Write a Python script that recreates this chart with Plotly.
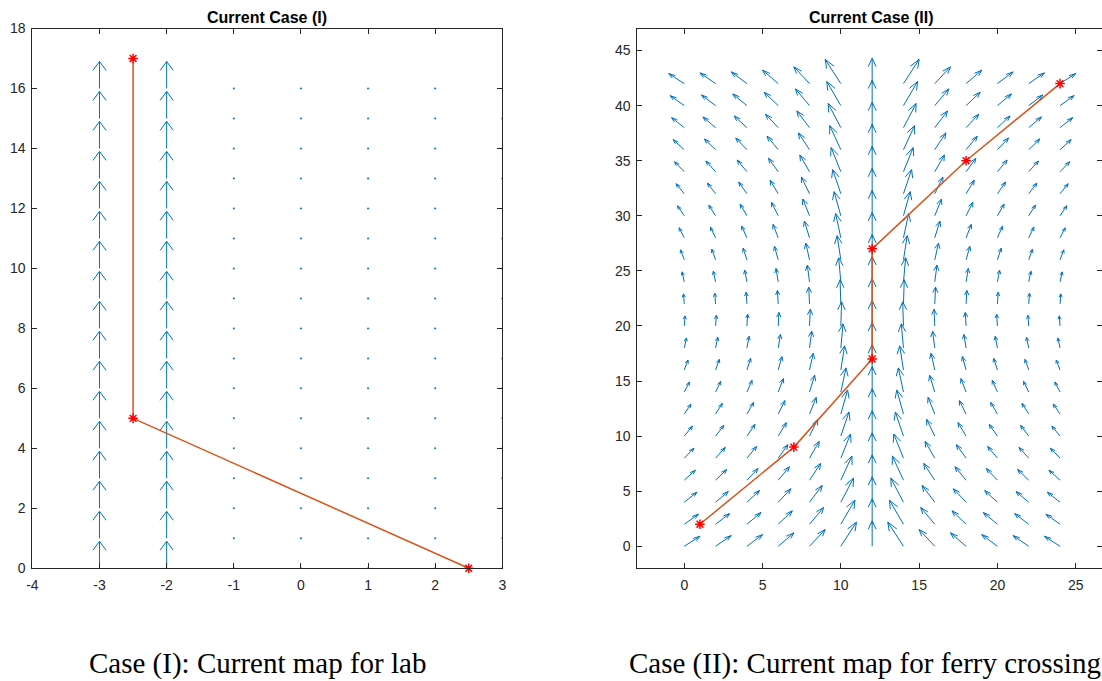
import plotly.graph_objects as go

# ---------------- Case (I): lab current ----------------
lab_x = [-3, -2, -1, 0, 1, 2, 3]
lab_y = [0, 1, 2, 3, 4, 5, 6, 7, 8, 9, 10, 11, 12, 13, 14, 15, 16]
lab_u = [0, 0, 0, 0, 0, 0, 0]            # cross-stream component per column
lab_v = [0.9, 0.9, 0, 0, 0, 0, 0]        # along-stream component per column
lab_path_x = [-2.5, -2.5, 2.5]
lab_path_y = [17, 5, 0]
lab_xticks = [-4, -3, -2, -1, 0, 1, 2, 3]
lab_yticks = [0, 2, 4, 6, 8, 10, 12, 14, 16, 18]

# ---------------- Case (II): ferry crossing ----------------
ferry_x = [0, 2, 4, 6, 8, 10, 12, 14, 16, 18, 20, 22, 24]
ferry_y = [0, 2, 4, 6, 8, 10, 12, 14, 16, 18, 20, 22, 24, 26, 28, 30,
           32, 34, 36, 38, 40, 42]
# cross-stream drift on each row (left bank), mirrored on the right bank
ferry_drift = [1.0, 0.9, 0.81, 0.71, 0.62, 0.52, 0.43, 0.33, 0.24, 0.14, 0.05,
               -0.05, -0.14, -0.24, -0.33, -0.43, -0.52, -0.62, -0.71, -0.81,
               -0.9, -1.0]
ferry_bank = [1, 1, 1, 1, 1, 1, 0, -1, -1, -1, -1, -1, -1]
# along-stream flow on each column
ferry_flow = [0.91, 0.97, 1.06, 1.22, 1.52, 2.19, 2.3, 2.19, 1.52, 1.22, 1.06,
              0.97, 0.91]
ferry_path_x = [1, 7, 12, 12, 18, 24]
ferry_path_y = [2, 9, 17, 27, 35, 42]
ferry_xticks = [0, 5, 10, 15, 20, 25]
ferry_yticks = [0, 5, 10, 15, 20, 25, 30, 35, 40, 45]

W, H = 1102, 681
BLUE = "#0072BD"
ORANGE = "#D95319"
RED = "#FF0000"
AXC = "#262626"


def quiver(xs, ys, us, vs, alpha=0.33, beta=0.33):
    """Shaft + open arrowhead polylines; zero vectors returned as dots."""
    lx, ly, dx, dy = [], [], [], []
    for x, y, u, v in zip(xs, ys, us, vs):
        if u == 0 and v == 0:
            dx.append(x)
            dy.append(y)
            continue
        lx += [x, x + u, None]
        ly += [y, y + v, None]
        lx += [x + u - alpha * (u + beta * v), x + u,
               x + u - alpha * (u - beta * v), None]
        ly += [y + v - alpha * (v - beta * u), y + v,
               y + v - alpha * (v + beta * u), None]
    return lx, ly, dx, dy


# expand the lab grid
lx_pts, ly_pts, lu_pts, lv_pts = [], [], [], []
for y in lab_y:
    for j, x in enumerate(lab_x):
        lx_pts.append(x)
        ly_pts.append(y)
        lu_pts.append(lab_u[j])
        lv_pts.append(lab_v[j])

# expand the ferry grid
fx_pts, fy_pts, fu_pts, fv_pts = [], [], [], []
for i, y in enumerate(ferry_y):
    for j, x in enumerate(ferry_x):
        fx_pts.append(x)
        fy_pts.append(y)
        fu_pts.append(ferry_drift[i] * ferry_bank[j])
        fv_pts.append(ferry_flow[j])

fig = go.Figure()

star = dict(symbol="asterisk-open", size=8, color=RED,
            line=dict(color=RED, width=1.5))

qx, qy, dxs, dys = quiver(lx_pts, ly_pts, lu_pts, lv_pts)
fig.add_trace(go.Scatter(x=qx, y=qy, mode="lines",
                         line=dict(color=BLUE, width=1),
                         xaxis="x", yaxis="y", hoverinfo="skip"))
fig.add_trace(go.Scatter(x=dxs, y=dys, mode="markers",
                         marker=dict(color=BLUE, size=2, line=dict(width=0)),
                         xaxis="x", yaxis="y", hoverinfo="skip"))
fig.add_trace(go.Scatter(x=lab_path_x, y=lab_path_y, mode="lines",
                         line=dict(color=ORANGE, width=1.5),
                         xaxis="x", yaxis="y"))
fig.add_trace(go.Scatter(x=lab_path_x, y=lab_path_y, mode="markers",
                         marker=star, xaxis="x", yaxis="y", cliponaxis=False))

qx, qy, dxs, dys = quiver(fx_pts, fy_pts, fu_pts, fv_pts)
fig.add_trace(go.Scatter(x=qx, y=qy, mode="lines",
                         line=dict(color=BLUE, width=1),
                         xaxis="x2", yaxis="y2", hoverinfo="skip"))
fig.add_trace(go.Scatter(x=ferry_path_x, y=ferry_path_y, mode="lines",
                         line=dict(color=ORANGE, width=1.5),
                         xaxis="x2", yaxis="y2"))
fig.add_trace(go.Scatter(x=ferry_path_x, y=ferry_path_y, mode="markers",
                         marker=star, xaxis="x2", yaxis="y2"))

# plot-area boxes in pixels
L1, R1 = 32.4, 502.3
L2, R2 = 637.3, 1102.0
TOP, BOT = 28.5, 568.3

axis_common = dict(
    showgrid=False, zeroline=False, showline=True, mirror="ticks",
    linecolor=AXC, linewidth=1, ticks="inside", ticklen=5, tickwidth=1,
    tickcolor=AXC, automargin=False,
    tickfont=dict(family="Liberation Sans, Arial", size=14, color=AXC),
)


def labels(vals):
    return [str(v) for v in vals]


fig.update_layout(
    width=W, height=H,
    margin=dict(l=0, r=0, t=0, b=0, autoexpand=False),
    paper_bgcolor="white", plot_bgcolor="white",
    showlegend=False,
    xaxis=dict(axis_common, domain=[L1 / W, R1 / W], range=[-4, 3],
               tickvals=lab_xticks, ticktext=labels(lab_xticks),
               ticklabelstandoff=4, anchor="y"),
    yaxis=dict(axis_common, domain=[1 - BOT / H, 1 - TOP / H], range=[0, 18],
               tickvals=lab_yticks, ticktext=labels(lab_yticks),
               ticklabelstandoff=3, anchor="x"),
    xaxis2=dict(axis_common, domain=[L2 / W, R2 / W], range=[-3, 26.68],
                tickvals=ferry_xticks, ticktext=labels(ferry_xticks),
                ticklabelstandoff=4, anchor="y2"),
    yaxis2=dict(axis_common, domain=[1 - BOT / H, 1 - TOP / H], range=[-2, 47],
                tickvals=ferry_yticks, ticktext=labels(ferry_yticks),
                ticklabelstandoff=3, anchor="x2"),
)

title_font = dict(family="Liberation Sans, Arial", size=16, color="black")
caption_font = dict(family="Liberation Serif, Times New Roman", size=29,
                    color="black")
fig.add_annotation(text="<b>Current Case (I)</b>", x=267 / W, y=1 - 18 / H,
                   xref="paper", yref="paper", showarrow=False,
                   xanchor="center", yanchor="middle", font=title_font)
fig.add_annotation(text="<b>Current Case (II)</b>", x=871 / W, y=1 - 18 / H,
                   xref="paper", yref="paper", showarrow=False,
                   xanchor="center", yanchor="middle", font=title_font)
fig.add_annotation(text="Case (I): Current map for lab", x=257 / W,
                   y=1 - 663 / H, xref="paper", yref="paper", showarrow=False,
                   xanchor="center", yanchor="middle", font=caption_font)
fig.add_annotation(text="Case (II): Current map for ferry crossing",
                   x=865 / W, y=1 - 663 / H, xref="paper", yref="paper",
                   showarrow=False, xanchor="center", yanchor="middle",
                   font=caption_font)

fig.write_html("out.html")
